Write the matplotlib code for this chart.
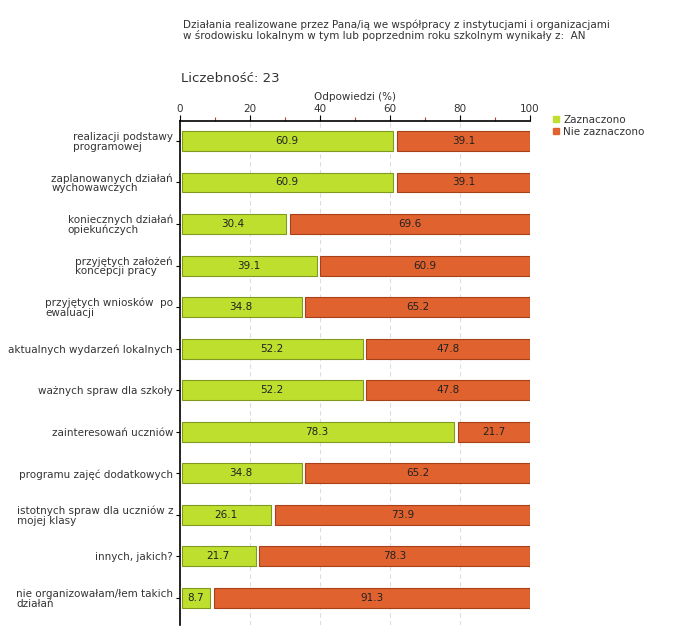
import numpy as np
import matplotlib
matplotlib.use('Agg')
import matplotlib.pyplot as plt
from matplotlib.lines import Line2D

categories = ['realizacji podstawy\nprogramowej',
              'zaplanowanych działań\nwychowawczych',
              'koniecznych działań\nopiekuńczych',
              'przyjętych założeń\nkoncepcji pracy',
              'przyjętych wniosków  po\newaluacji',
              'aktualnych wydarzeń lokalnych',
              'ważnych spraw dla szkoły',
              'zainteresowań uczniów',
              'programu zajęć dodatkowych',
              'istotnych spraw dla uczniów z\nmojej klasy',
              'innych, jakich?',
              'nie organizowałam/łem takich\ndziałań']
zaznaczono = [60.9, 60.9, 30.4, 39.1, 34.8, 52.2, 52.2, 78.3, 34.8, 26.1, 21.7, 8.7]
nie_zaznaczono = [39.1, 39.1, 69.6, 60.9, 65.2, 47.8, 47.8, 21.7, 65.2, 73.9, 78.3, 91.3]
series_names = ['Zaznaczono', 'Nie zaznaczono']

green, green_ec = '#bfdf2f', '#7f9a1f'
orange, orange_ec = '#e0622f', '#a8401a'
txt = '#333333'

plt.rcParams['font.family'] = ['DejaVu Sans']

fig = plt.figure(figsize=(6.8, 6.4), dpi=100)
ax = fig.add_axes([180/680, 1-625/640, 350/680, 504/640])

y = np.arange(len(categories))
v1 = np.array(zaznaczono)
v2 = np.array(nie_zaznaczono)
gap = 1.0
start = 0.5
h = 0.48
ax.barh(y, v1 - start, left=start, height=h, color=green, edgecolor=green_ec, linewidth=0.8, zorder=3)
ax.barh(y, v2 - gap, left=v1 + gap, height=h, color=orange, edgecolor=orange_ec, linewidth=0.8, zorder=3)

for i in range(len(y)):
    ax.text(v1[i] / 2, y[i], f'{v1[i]:.1f}', ha='center', va='center', fontsize=7.5, color='#222222', zorder=4)
    ax.text(v1[i] + gap + (v2[i] - gap) / 2, y[i], f'{v2[i]:.1f}', ha='center', va='center', fontsize=7.5, color='#222222', zorder=4)

ax.set_xlim(0, 100)
ax.set_ylim(11.65, -0.48)
ax.xaxis.tick_top()
ax.xaxis.set_label_position('top')
ax.set_xticks(np.arange(0, 101, 20))
ax.set_xticks(np.arange(10, 100, 20), minor=True)
ax.tick_params(axis='x', which='major', direction='out', length=4, width=0.8, color='black',
               labelsize=7.5, labelcolor=txt, pad=1)
ax.tick_params(axis='x', which='minor', direction='out', length=3, width=0.8, color='#c04040')
ax.set_xlabel('Odpowiedzi (%)', fontsize=7.5, color=txt, labelpad=3)

ax.set_yticks(y)
ax.set_yticklabels(categories, fontsize=7.5, color=txt, multialignment='left', linespacing=0.95)
ax.tick_params(axis='y', direction='out', length=3, width=0.8, pad=2)

ax.grid(axis='x', which='major', color='#dddddd', linestyle=(0, (4, 3)), linewidth=0.8, zorder=0)
ax.spines['right'].set_visible(False)
ax.spines['bottom'].set_visible(False)
ax.spines['left'].set_linewidth(1.2)
ax.spines['top'].set_linewidth(1.2)

fig.text(183/680, 1-30/640, 'Działania realizowane przez Pana/ią we współpracy z instytucjami i organizacjami\n'
         'w środowisku lokalnym w tym lub poprzednim roku szkolnym wynikały z:  AN',
         fontsize=7.5, color=txt, va='center', ha='left', linespacing=0.95)
fig.text(181/680, 1-78/640, 'Liczebność: 23', fontsize=9.5, color=txt, va='center', ha='left')

handles = [Line2D([], [], marker='s', linestyle='', markersize=5, markerfacecolor=green, markeredgecolor=green),
           Line2D([], [], marker='s', linestyle='', markersize=5, markerfacecolor=orange, markeredgecolor=orange)]
fig.legend(handles, series_names, loc='upper left', bbox_to_anchor=(553/680, 1-115/640), frameon=False,
           fontsize=7.5, labelcolor=txt, handlelength=0.6, handletextpad=0.4, labelspacing=0.2,
           borderpad=0, borderaxespad=0)

fig.savefig('out.png', dpi=100)
